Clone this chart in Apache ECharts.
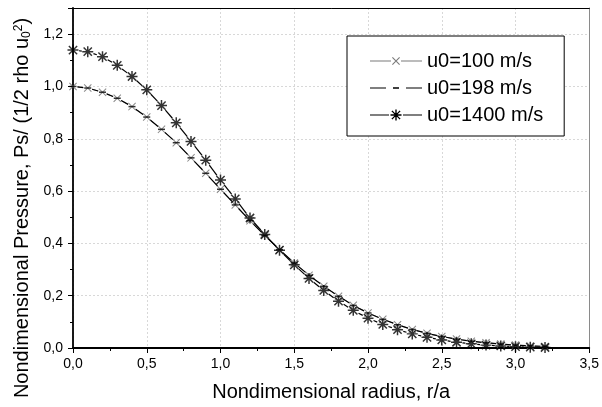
<!DOCTYPE html>
<html><head><meta charset="utf-8">
<script src="https://cdn.jsdelivr.net/npm/echarts@6/dist/echarts.min.js"></script>
<style>html,body{margin:0;padding:0;background:#fff}#c{width:602px;height:407px}</style>
</head><body><div id="c"></div>
<script>
// ---- data ----
const radius = [0.0,0.1,0.2,0.3,0.4,0.5,0.6,0.7,0.8,0.9,1.0,1.1,1.2,1.3,1.4,1.5,1.6,1.7,1.8,1.9,2.0,2.1,2.2,2.3,2.4,2.5,2.6,2.7,2.8,2.9,3.0,3.1,3.2];
const u100  = [1.000,0.994,0.978,0.955,0.923,0.883,0.836,0.785,0.727,0.668,0.607,0.547,0.487,0.430,0.376,0.325,0.278,0.236,0.198,0.163,0.134,0.110,0.089,0.071,0.056,0.044,0.034,0.026,0.020,0.015,0.011,0.008,0.006];
const u198  = [1.000,0.994,0.978,0.955,0.923,0.883,0.836,0.785,0.727,0.668,0.607,0.547,0.487,0.430,0.376,0.325,0.278,0.236,0.198,0.163,0.134,0.110,0.089,0.071,0.056,0.044,0.034,0.026,0.020,0.015,0.011,0.008,0.006];
const u1400 = [1.139,1.133,1.114,1.081,1.038,0.987,0.927,0.861,0.790,0.718,0.642,0.570,0.497,0.434,0.374,0.318,0.266,0.220,0.179,0.144,0.114,0.090,0.070,0.054,0.041,0.031,0.022,0.016,0.011,0.008,0.005,0.003,0.002];
const seriesNames = ['u0=100 m/s','u0=198 m/s','u0=1400 m/s'];
const xTitle = 'Nondimensional radius, r/a';
const yTitle = 'Nondimensional Pressure, Ps/ (1/2 rho u{sub|0}{sup|2})';

// ---- shape helpers ----
function bar(x1,y1,x2,y2,hw){const dx=x2-x1,dy=y2-y1,L=Math.hypot(dx,dy);const nx=-dy/L*hw,ny=dx/L*hw;
  const f=v=>v.toFixed(3);
  return `M${f(x1+nx)},${f(y1+ny)}L${f(x2+nx)},${f(y2+ny)}L${f(x2-nx)},${f(y2-ny)}L${f(x1-nx)},${f(y1-ny)}Z`;}
function star(cx,cy,s,hw){const d=s*0.75;return bar(cx-s,cy,cx+s,cy,hw)+bar(cx,cy-s,cx,cy+s,hw)+bar(cx-d,cy-d,cx+d,cy+d,hw)+bar(cx-d,cy+d,cx+d,cy-d,hw);}
function xmark(cx,cy,s,hw){return bar(cx-s,cy-s,cx+s,cy+s,hw)+bar(cx-s,cy+s,cx+s,cy-s,hw);}
const corners='M0,0L0.01,0L0,0.01ZM52,12L51.99,12L52,11.99Z';
const icon100='path://'+corners+bar(0,6,21,6,0.5)+xmark(26,6,3.6,0.55)+bar(31,6,52,6,0.5);
const icon198='path://'+corners+bar(0,6,16,6,0.5)+bar(23,6,29,6,0.7)+bar(36,6,52,6,0.5);
const icon1400='path://'+corners+bar(0,6,19,6,0.5)+star(26,6,5.5,0.7)+bar(33,6,52,6,0.5);
const starSym='path://'+star(0,0,10,1.35);
const xSym='path://'+xmark(0,0,5,0.7);

function segs(ys){return radius.slice(0,-1).map((x,i)=>[x,ys[i],radius[i+1],ys[i+1]]);}
function pts(ys){return radius.map((x,i)=>[x,ys[i]]);}
function gapLine(color,gap,w){return function(params,api){
  const p1=api.coord([api.value(0),api.value(1)]),p2=api.coord([api.value(2),api.value(3)]);
  const dx=p2[0]-p1[0],dy=p2[1]-p1[1],L=Math.hypot(dx,dy);
  if(L<=2*gap+0.5)return null;const ux=dx/L,uy=dy/L;
  return {type:'line',shape:{x1:p1[0]+ux*gap,y1:p1[1]+uy*gap,x2:p2[0]-ux*gap,y2:p2[1]-uy*gap},style:{stroke:color,lineWidth:w,fill:null}};};}

const FONT='Liberation Sans, Arial, sans-serif';
const fmt=v=>v.toFixed(1).replace('.',',');
const chart=echarts.init(document.getElementById('c'),null,{renderer:'canvas'});
chart.setOption({
  backgroundColor:'#fff',
  animation:false,
  textStyle:{fontFamily:FONT},
  grid:{left:73,right:7,top:8,bottom:56,containLabel:false},
  legend:{
    data:[{name:seriesNames[0],icon:icon100},{name:seriesNames[1],icon:icon198},{name:seriesNames[2],icon:icon1400}],
    orient:'vertical',left:347,top:36,itemWidth:52,itemHeight:12,itemGap:7,
    padding:[15,21,11,23],borderColor:'#000',borderWidth:1,backgroundColor:'#fff',borderRadius:0,
    selectedMode:false,textStyle:{fontSize:20,color:'#000',fontFamily:FONT,lineHeight:20}
  },
  xAxis:[{
    type:'value',min:0,max:3.5,interval:0.5,
    name:xTitle,nameLocation:'middle',nameGap:34,
    nameTextStyle:{fontSize:20,color:'#000',fontFamily:FONT},
    axisLine:{onZero:false,lineStyle:{color:'#000',width:1.8}},
    axisTick:{show:true,inside:false,length:5,lineStyle:{color:'#000',width:1}},
    minorTick:{show:true,splitNumber:2,length:3,lineStyle:{color:'#000',width:1}},
    axisLabel:{formatter:fmt,fontSize:14,color:'#000',margin:9,fontFamily:FONT,showMaxLabel:true},
    splitLine:{show:true,lineStyle:{color:'#d8d8d8',type:[2,2],width:1}}
  },{
    type:'value',min:0,max:3.5,position:'top',
    axisLine:{onZero:false,lineStyle:{color:'#000',width:1}},
    axisTick:{show:false},axisLabel:{show:false},splitLine:{show:false}
  }],
  yAxis:[{
    type:'value',min:0,max:1.3,interval:0.2,
    name:yTitle,nameLocation:'middle',nameGap:30,
    nameTextStyle:{fontSize:20,color:'#000',fontFamily:FONT,padding:[0,60,0,0],
      rich:{sub:{fontSize:12,verticalAlign:'bottom',fontFamily:FONT,color:'#000'},
            sup:{fontSize:12,verticalAlign:'top',fontFamily:FONT,color:'#000'}}},
    axisLine:{onZero:false,lineStyle:{color:'#000',width:1.8}},
    axisTick:{show:true,inside:false,length:5,lineStyle:{color:'#000',width:1}},
    minorTick:{show:true,splitNumber:2,length:3,lineStyle:{color:'#000',width:1}},
    axisLabel:{formatter:fmt,fontSize:14,color:'#000',margin:10,fontFamily:FONT,showMaxLabel:false},
    splitLine:{show:true,lineStyle:{color:'#d8d8d8',type:[2,2],width:1}}
  },{
    type:'value',min:0,max:1.3,position:'right',
    axisLine:{show:true,onZero:false,lineStyle:{color:'#8a8a8a',width:1}},
    axisTick:{show:false},axisLabel:{show:false},splitLine:{show:false}
  }],
  series:[
    {type:'custom',name:seriesNames[0],renderItem:gapLine('#7a7a7a',4.5,1),data:segs(u100),encode:{x:[0,2],y:[1,3]},itemStyle:{color:'#7a7a7a'},silent:true},
    {type:'scatter',name:seriesNames[0],data:pts(u100),symbol:xSym,symbolSize:8,itemStyle:{color:'#6e6e6e'},silent:true},
    {type:'custom',name:seriesNames[1],renderItem:gapLine('#000',4.5,1.2),data:segs(u198),encode:{x:[0,2],y:[1,3]},itemStyle:{color:'#000'},silent:true},
    {type:'scatter',name:seriesNames[1],data:pts(u198),symbol:'rect',symbolSize:[7,1.5],itemStyle:{color:'#000'},silent:true},
    {type:'custom',name:seriesNames[2],renderItem:gapLine('#000',6,1.2),data:segs(u1400),encode:{x:[0,2],y:[1,3]},itemStyle:{color:'#000'},silent:true},
    {type:'scatter',name:seriesNames[2],data:pts(u1400),symbol:starSym,symbolSize:11,itemStyle:{color:'#000'},silent:true}
  ]
});
</script></body></html>
